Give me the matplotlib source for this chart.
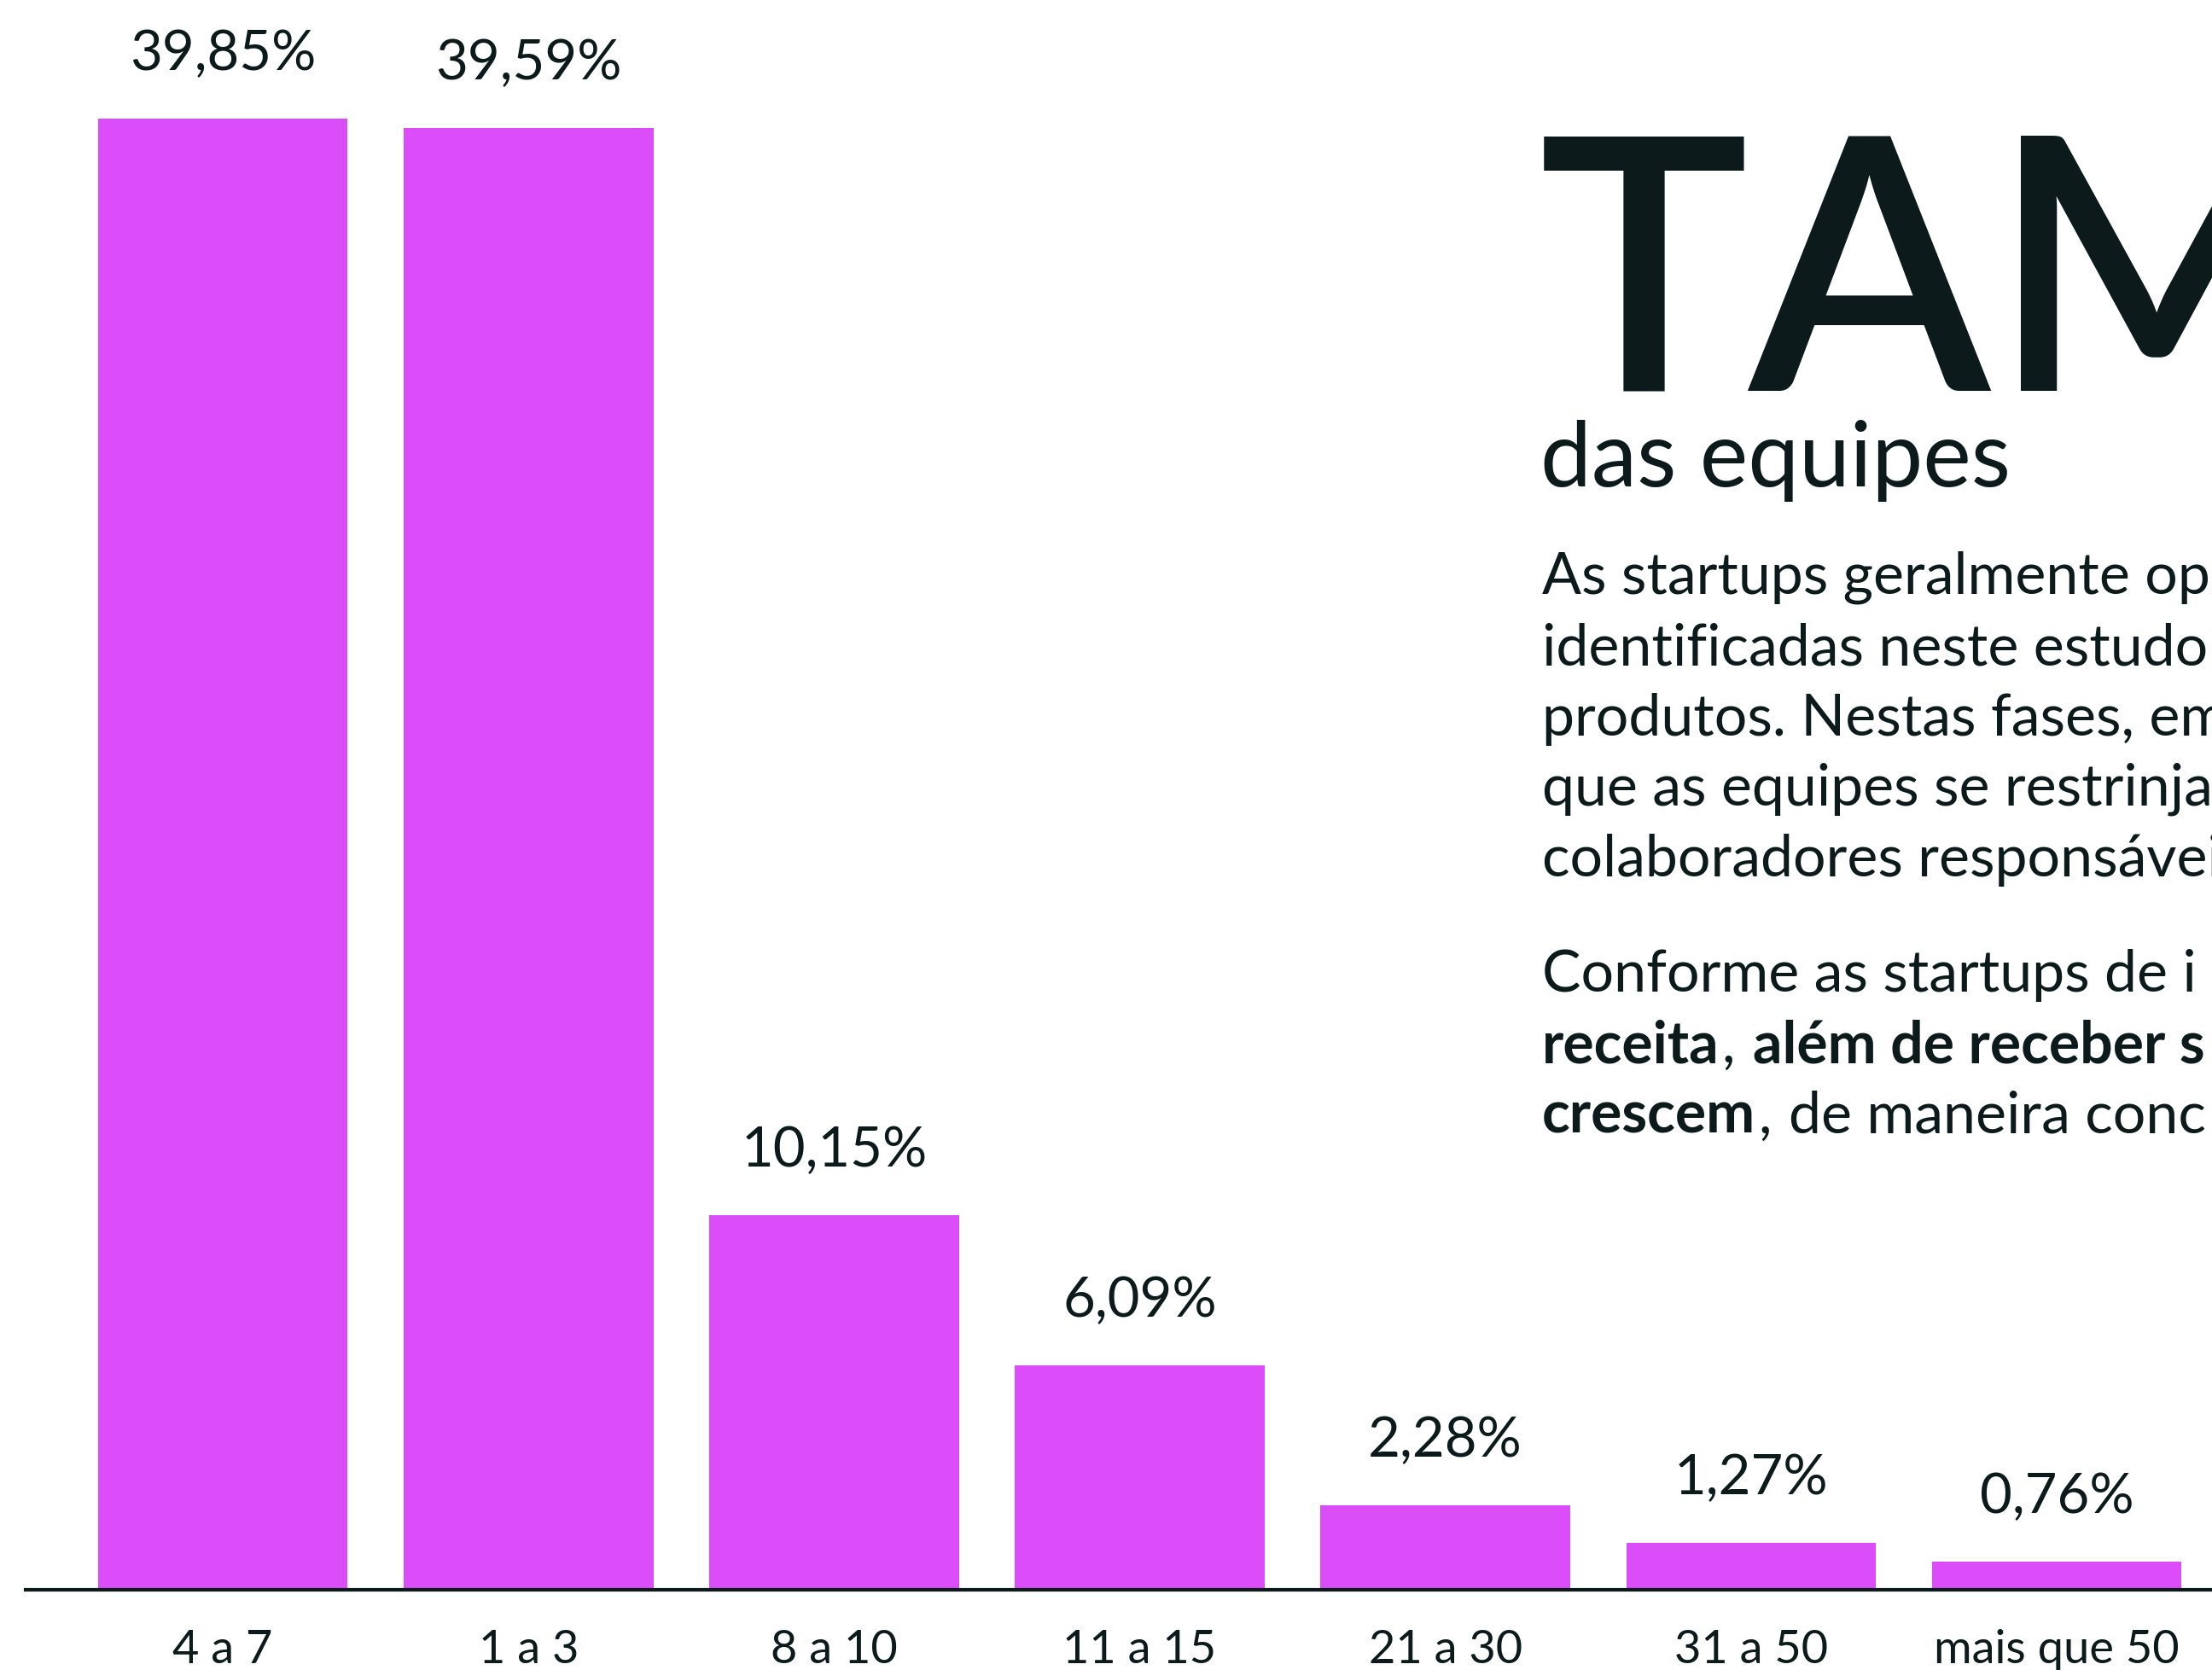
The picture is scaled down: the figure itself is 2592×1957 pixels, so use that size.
import matplotlib
matplotlib.use("Agg")
import matplotlib.pyplot as plt
from matplotlib import font_manager
from matplotlib.font_manager import FontProperties
from matplotlib.textpath import TextPath

# === 1. Dados do gráfico ===
faixas = ["4 a 7", "1 a 3", "8 a 10", "11 a 15", "21 a 30", "31 a 50", "mais que 50"]
percentuais = [39.85, 39.59, 10.15, 6.09, 2.28, 1.27, 0.76]
rotulos = ["39,85%", "39,59%", "10,15%", "6,09%", "2,28%", "1,27%", "0,76%"]

titulo = "TAMANHO"
subtitulo = "das equipes"
paragrafo1 = [
    "As startups geralmente operam",
    "identificadas neste estudo",
    "produtos. Nestas fases, em",
    "que as equipes se restrinjam",
    "colaboradores responsáveis",
]
# cada linha: lista de (texto, negrito); espaço inicial = separação entre partes
paragrafo2 = [
    [("Conforme as startups de i", False)],
    [("receita", True), (",", False), (" além de receber s", True)],
    [("crescem", True), (",", False), (" de maneira conc", False)],
]

# === 2. Estilo ===
MAGENTA = "#DA4DF9"
ESCURO = "#0C1A1C"
W, H = 2592, 1957

disponiveis = {f.name for f in font_manager.fontManager.ttflist}
FONTE = next((n for n in ["Lato", "Open Sans", "Roboto"] if n in disponiveis), "DejaVu Sans")

# título: sem fonte condensada instalada, usa a mesma família em semi-negrito
prop_titulo = FontProperties(family=FONTE, weight="semibold")
# ajusta o tamanho para que as maiúsculas tenham ~298 px de altura
altura_T = TextPath((0, 0), "T", size=100, prop=prop_titulo).get_extents().height
prop_titulo.set_size(298 * 0.72 * 100 / altura_T)

fig = plt.figure(figsize=(W / 100, H / 100), dpi=100)
fig.patch.set_facecolor("white")

# eixo: linha de base em y=1863 px, começa em x=30 px
ax = fig.add_axes([30 / W, (H - 1863) / H, (W - 30) / W, 1863 / H])
x = list(range(len(faixas)))
ax.bar(x, percentuais, width=0.817, color=MAGENTA, zorder=2)
ax.set_xlim(-0.645, 6.508)
ax.set_ylim(0, 1863 / 43.26)
ax.set_xticks([])
ax.set_yticks([])
for lado in ["top", "left", "right"]:
    ax.spines[lado].set_visible(False)
ax.spines["bottom"].set_color(ESCURO)
ax.spines["bottom"].set_linewidth(3)
ax.spines["bottom"].set_zorder(3)
ax.set_facecolor("none")

for xi, v, r in zip(x, percentuais, rotulos):
    ax.annotate(r, xy=(xi, v), xytext=(0, 41), textcoords="offset points",
                ha="center", va="baseline", fontsize=47, color=ESCURO,
                family=FONTE)

for xi, f in zip(x, faixas):
    ax.annotate(f, xy=(xi, 0), xytext=(0, -62), textcoords="offset points",
                ha="center", va="baseline", fontsize=39, color=ESCURO,
                family=FONTE, annotation_clip=False)


# === 3. Textos à direita (coordenadas em pixels) ===
def fx(px):
    return px / W


def fy(py):
    return 1 - py / H


fig.text(fx(1803), fy(458), titulo, fontproperties=prop_titulo,
         color=ESCURO, va="baseline", ha="left")
fig.text(fx(1805), fy(570), subtitulo, fontsize=77,
         family=FONTE, color=ESCURO, va="baseline", ha="left")

linhas_y1 = [696, 779, 862, 944, 1027]
for y, linha in zip(linhas_y1, paragrafo1):
    fig.text(fx(1807), fy(y), linha, fontsize=49,
             family=FONTE, color=ESCURO, va="baseline", ha="left")

renderer = fig.canvas.get_renderer()
t1 = fig.text(0, 0, "a a", fontsize=49, family=FONTE)
t2 = fig.text(0, 0, "aa", fontsize=49, family=FONTE)
espaco = t1.get_window_extent(renderer).width - t2.get_window_extent(renderer).width
t1.remove()
t2.remove()

linhas_y2 = [1162, 1245, 1328]
for y, partes in zip(linhas_y2, paragrafo2):
    xpx = 1807
    for texto, negrito in partes:
        if texto.startswith(" "):
            xpx += espaco
            texto = texto.lstrip()
        t = fig.text(fx(xpx), fy(y), texto, fontsize=49,
                     fontweight="bold" if negrito else "normal",
                     family=FONTE, color=ESCURO, va="baseline", ha="left")
        xpx = t.get_window_extent(renderer).x1 + 3

# === 4. Guardar imagem ===
fig.savefig("out.png", dpi=100, facecolor="white")
plt.close(fig)
print("Imagem guardada como 'out.png'")
